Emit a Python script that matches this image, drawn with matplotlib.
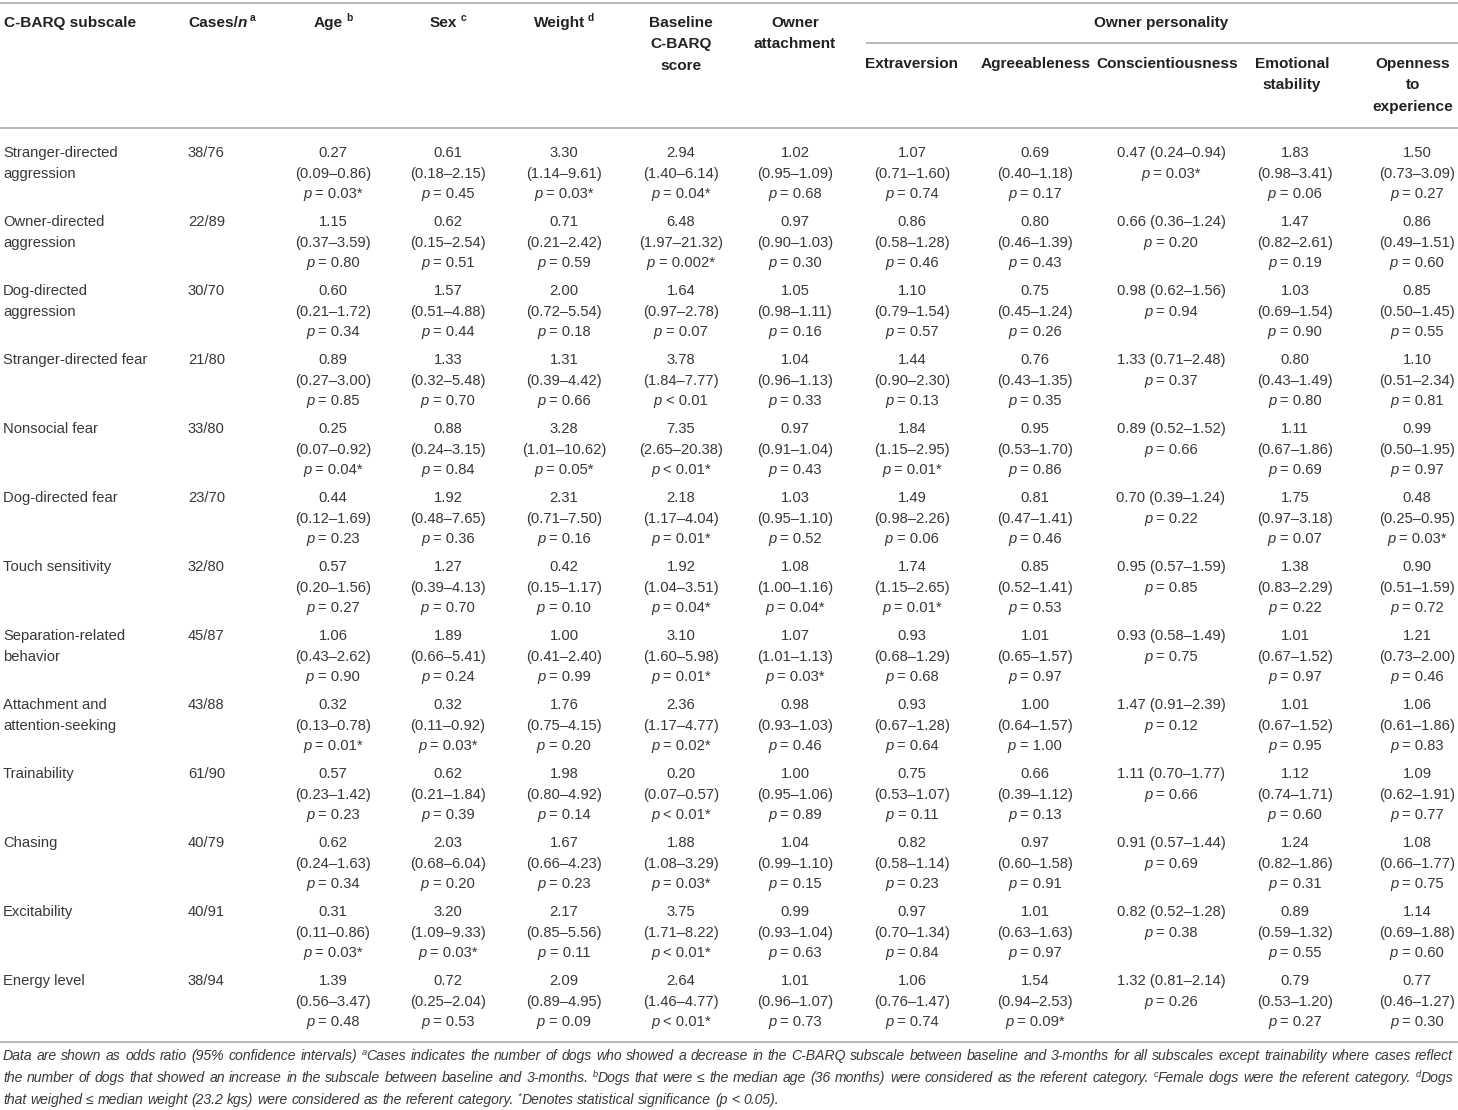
import matplotlib
matplotlib.use("Agg")
import matplotlib.pyplot as plt
from matplotlib.font_manager import FontProperties

# ---------------- data ----------------
subscales = ["Stranger-directed\naggression", "Owner-directed\naggression", "Dog-directed\naggression",
             "Stranger-directed fear", "Nonsocial fear", "Dog-directed fear", "Touch sensitivity",
             "Separation-related\nbehavior", "Attachment and\nattention-seeking", "Trainability",
             "Chasing", "Excitability", "Energy level"]
cases = ["38/76", "22/89", "30/70", "21/80", "33/80", "23/70", "32/80", "45/87", "43/88",
         "61/90", "40/79", "40/91", "38/94"]

# (odds ratio, CI low, CI high, p)
age = [(0.27, 0.09, 0.86, "0.03*"), (1.15, 0.37, 3.59, "0.80"), (0.60, 0.21, 1.72, "0.34"),
       (0.89, 0.27, 3.00, "0.85"), (0.25, 0.07, 0.92, "0.04*"), (0.44, 0.12, 1.69, "0.23"),
       (0.57, 0.20, 1.56, "0.27"), (1.06, 0.43, 2.62, "0.90"), (0.32, 0.13, 0.78, "0.01*"),
       (0.57, 0.23, 1.42, "0.23"), (0.62, 0.24, 1.63, "0.34"), (0.31, 0.11, 0.86, "0.03*"),
       (1.39, 0.56, 3.47, "0.48")]
sex = [(0.61, 0.18, 2.15, "0.45"), (0.62, 0.15, 2.54, "0.51"), (1.57, 0.51, 4.88, "0.44"),
       (1.33, 0.32, 5.48, "0.70"), (0.88, 0.24, 3.15, "0.84"), (1.92, 0.48, 7.65, "0.36"),
       (1.27, 0.39, 4.13, "0.70"), (1.89, 0.66, 5.41, "0.24"), (0.32, 0.11, 0.92, "0.03*"),
       (0.62, 0.21, 1.84, "0.39"), (2.03, 0.68, 6.04, "0.20"), (3.20, 1.09, 9.33, "0.03*"),
       (0.72, 0.25, 2.04, "0.53")]
weight = [(3.30, 1.14, 9.61, "0.03*"), (0.71, 0.21, 2.42, "0.59"), (2.00, 0.72, 5.54, "0.18"),
          (1.31, 0.39, 4.42, "0.66"), (3.28, 1.01, 10.62, "0.05*"), (2.31, 0.71, 7.50, "0.16"),
          (0.42, 0.15, 1.17, "0.10"), (1.00, 0.41, 2.40, "0.99"), (1.76, 0.75, 4.15, "0.20"),
          (1.98, 0.80, 4.92, "0.14"), (1.67, 0.66, 4.23, "0.23"), (2.17, 0.85, 5.56, "0.11"),
          (2.09, 0.89, 4.95, "0.09")]
baseline = [(2.94, 1.40, 6.14, "0.04*"), (6.48, 1.97, 21.32, "0.002*"), (1.64, 0.97, 2.78, "0.07"),
            (3.78, 1.84, 7.77, "<0.01"), (7.35, 2.65, 20.38, "<0.01*"), (2.18, 1.17, 4.04, "0.01*"),
            (1.92, 1.04, 3.51, "0.04*"), (3.10, 1.60, 5.98, "0.01*"), (2.36, 1.17, 4.77, "0.02*"),
            (0.20, 0.07, 0.57, "<0.01*"), (1.88, 1.08, 3.29, "0.03*"), (3.75, 1.71, 8.22, "<0.01*"),
            (2.64, 1.46, 4.77, "<0.01*")]
attachment = [(1.02, 0.95, 1.09, "0.68"), (0.97, 0.90, 1.03, "0.30"), (1.05, 0.98, 1.11, "0.16"),
              (1.04, 0.96, 1.13, "0.33"), (0.97, 0.91, 1.04, "0.43"), (1.03, 0.95, 1.10, "0.52"),
              (1.08, 1.00, 1.16, "0.04*"), (1.07, 1.01, 1.13, "0.03*"), (0.98, 0.93, 1.03, "0.46"),
              (1.00, 0.95, 1.06, "0.89"), (1.04, 0.99, 1.10, "0.15"), (0.99, 0.93, 1.04, "0.63"),
              (1.01, 0.96, 1.07, "0.73")]
extraversion = [(1.07, 0.71, 1.60, "0.74"), (0.86, 0.58, 1.28, "0.46"), (1.10, 0.79, 1.54, "0.57"),
                (1.44, 0.90, 2.30, "0.13"), (1.84, 1.15, 2.95, "0.01*"), (1.49, 0.98, 2.26, "0.06"),
                (1.74, 1.15, 2.65, "0.01*"), (0.93, 0.68, 1.29, "0.68"), (0.93, 0.67, 1.28, "0.64"),
                (0.75, 0.53, 1.07, "0.11"), (0.82, 0.58, 1.14, "0.23"), (0.97, 0.70, 1.34, "0.84"),
                (1.06, 0.76, 1.47, "0.74")]
agreeableness = [(0.69, 0.40, 1.18, "0.17"), (0.80, 0.46, 1.39, "0.43"), (0.75, 0.45, 1.24, "0.26"),
                 (0.76, 0.43, 1.35, "0.35"), (0.95, 0.53, 1.70, "0.86"), (0.81, 0.47, 1.41, "0.46"),
                 (0.85, 0.52, 1.41, "0.53"), (1.01, 0.65, 1.57, "0.97"), (1.00, 0.64, 1.57, "1.00"),
                 (0.66, 0.39, 1.12, "0.13"), (0.97, 0.60, 1.58, "0.91"), (1.01, 0.63, 1.63, "0.97"),
                 (1.54, 0.94, 2.53, "0.09*")]
conscientiousness = [(0.47, 0.24, 0.94, "0.03*"), (0.66, 0.36, 1.24, "0.20"), (0.98, 0.62, 1.56, "0.94"),
                     (1.33, 0.71, 2.48, "0.37"), (0.89, 0.52, 1.52, "0.66"), (0.70, 0.39, 1.24, "0.22"),
                     (0.95, 0.57, 1.59, "0.85"), (0.93, 0.58, 1.49, "0.75"), (1.47, 0.91, 2.39, "0.12"),
                     (1.11, 0.70, 1.77, "0.66"), (0.91, 0.57, 1.44, "0.69"), (0.82, 0.52, 1.28, "0.38"),
                     (1.32, 0.81, 2.14, "0.26")]
emotional = [(1.83, 0.98, 3.41, "0.06"), (1.47, 0.82, 2.61, "0.19"), (1.03, 0.69, 1.54, "0.90"),
             (0.80, 0.43, 1.49, "0.80"), (1.11, 0.67, 1.86, "0.69"), (1.75, 0.97, 3.18, "0.07"),
             (1.38, 0.83, 2.29, "0.22"), (1.01, 0.67, 1.52, "0.97"), (1.01, 0.67, 1.52, "0.95"),
             (1.12, 0.74, 1.71, "0.60"), (1.24, 0.82, 1.86, "0.31"), (0.89, 0.59, 1.32, "0.55"),
             (0.79, 0.53, 1.20, "0.27")]
openness = [(1.50, 0.73, 3.09, "0.27"), (0.86, 0.49, 1.51, "0.60"), (0.85, 0.50, 1.45, "0.55"),
            (1.10, 0.51, 2.34, "0.81"), (0.99, 0.50, 1.95, "0.97"), (0.48, 0.25, 0.95, "0.03*"),
            (0.90, 0.51, 1.59, "0.72"), (1.21, 0.73, 2.00, "0.46"), (1.06, 0.61, 1.86, "0.83"),
            (1.09, 0.62, 1.91, "0.77"), (1.08, 0.66, 1.77, "0.75"), (1.14, 0.69, 1.88, "0.60"),
            (0.77, 0.46, 1.27, "0.30")]

col_headers = [["Age"], ["Sex"], ["Weight"], ["Baseline", "C-BARQ", "score"], ["Owner", "attachment"],
               ["Extraversion"], ["Agreeableness"], ["Conscientiousness"], ["Emotional", "stability"],
               ["Openness", "to", "experience"]]
col_sups = ["b", "c", "d", "", "", "", "", "", "", ""]
col_data = [age, sex, weight, baseline, attachment, extraversion, agreeableness,
            conscientiousness, emotional, openness]
group_title = "Owner personality"

footnotes = [
    "Data are shown as odds ratio (95% confidence intervals) ^aCases indicates the number of dogs who showed a decrease in the C-BARQ subscale between baseline and 3-months for all subscales except trainability where cases reflect",
    "the number of dogs that showed an increase in the subscale between baseline and 3-months. ^bDogs that were \u2264 the median age (36 months) were considered as the referent category. ^cFemale dogs were the referent category. ^dDogs",
    "that weighed \u2264 median weight (23.2 kgs) were considered as the referent category. ^*Denotes statistical significance (p < 0.05).",
]

# ---------------- layout ----------------
W, H = 1458, 1110
col_x = [333, 448, 564, 681, 795, 912, 1035, 1171, 1295, 1417]
head_x = [333, 448, 564, 681, 795, 912, 1036, 1167, 1292, 1413]
compact_col = 7
FAM = ["Liberation Sans", "DejaVu Sans"]
HEAD_C = "#222222"
BODY_C = "#383838"
RULE_C = "#b5b5b5"

fig = plt.figure(figsize=(W / 100, H / 100), dpi=100)
fig.patch.set_facecolor("white")
ax = fig.add_axes([0, 0, 1, 1])
ax.set_xlim(0, W)
ax.set_ylim(H, 0)
ax.axis("off")
renderer = fig.canvas.get_renderer()

fp_head = FontProperties(family=FAM, weight="bold", size=11.1)
fp_head_i = FontProperties(family=FAM, weight="bold", style="italic", size=11.1)
fp_head_sup = FontProperties(family=FAM, weight="bold", size=7.4)
fp_body = FontProperties(family=FAM, size=10.6)
fp_body_i = FontProperties(family=FAM, style="italic", size=10.6)


def tw(s, fp):
    t = ax.text(0, 0, s, fontproperties=fp)
    w = t.get_window_extent(renderer).width
    t.remove()
    return w


_space_cache = {}


def spw(fp):
    key = (fp.get_size(), fp.get_style(), fp.get_weight())
    if key not in _space_cache:
        _space_cache[key] = tw("x x", fp) - tw("xx", fp)
    return _space_cache[key]


def draw_runs(x, y, runs, ha="center", color=BODY_C):
    # runs: (text, fontprops, dy, space_before)
    widths = [tw(r[0], r[1]) for r in runs]
    gaps = [spw(r[1]) if r[3] else 0 for r in runs]
    total = sum(widths) + sum(gaps)
    cx = x - total / 2 if ha == "center" else x
    for (s, fp, dy, _), w, g in zip(runs, widths, gaps):
        cx += g
        ax.text(cx, y + dy, s, fontproperties=fp, color=color, ha="left", va="baseline")
        cx += w


# rules
ax.plot([0, W], [3, 3], color=RULE_C, lw=1.4, solid_capstyle="butt")
ax.plot([0, W], [128, 128], color=RULE_C, lw=1.4, solid_capstyle="butt")
ax.plot([866, W], [43, 43], color=RULE_C, lw=1.4, solid_capstyle="butt")
ax.plot([0, W], [1042, 1042], color=RULE_C, lw=1.4, solid_capstyle="butt")

# header
hb = [27, 48, 69]
ax.text(4, hb[0], "C-BARQ subscale", fontproperties=fp_head, color=HEAD_C, va="baseline")
draw_runs(188, hb[0], [("Cases/", fp_head, 0, False), ("n", fp_head_i, 0, False),
                       ("a", fp_head_sup, -6, True)], ha="left", color=HEAD_C)
ax.text(1161, hb[0], group_title, fontproperties=fp_head, color=HEAD_C, ha="center", va="baseline")
for ci, (lines, sup) in enumerate(zip(col_headers, col_sups)):
    base = 68 if ci >= 5 else 27
    step = 21.3
    for li, s in enumerate(lines):
        runs = [(s, fp_head, 0, False)]
        if sup and li == 0:
            runs.append((sup, fp_head_sup, -6, True))
        draw_runs(head_x[ci], base + li * step, runs, color=HEAD_C)

# body
row0, row_step, line_step = 157, 69, 20.7
for ri in range(len(subscales)):
    y0 = row0 + ri * row_step
    for li, s in enumerate(subscales[ri].split("\n")):
        ax.text(3, y0 + li * line_step, s, fontproperties=fp_body, color=BODY_C, va="baseline")
    ax.text(188, y0, cases[ri], fontproperties=fp_body, color=BODY_C, va="baseline")
    for ci, data in enumerate(col_data):
        orv, lo, hi, p = data[ri]
        ptxt = ("< " + p[1:]) if p.startswith("<") else ("= " + p)
        prun = [("p", fp_body_i, 0, False), (ptxt, fp_body, 0, True)]
        ci_txt = f"({lo:.2f}\u2013{hi:.2f})"
        x = col_x[ci]
        if ci == compact_col:
            draw_runs(x, y0, [(f"{orv:.2f} {ci_txt}", fp_body, 0, False)])
            draw_runs(x, y0 + line_step, prun)
        else:
            draw_runs(x, y0, [(f"{orv:.2f}", fp_body, 0, False)])
            draw_runs(x, y0 + line_step, [(ci_txt, fp_body, 0, False)])
            draw_runs(x, y0 + 2 * line_step, prun)

# footnotes (italic, justified)
def fn_tokens(line):
    toks = []
    for word in line.split(" "):
        if word.startswith("^"):
            toks.append([(word[1], "sup"), (word[2:], "n")])
        else:
            toks.append([(word, "n")])
    return toks


def fn_width(tokens, fpn, fps):
    total = 0
    for tok in tokens:
        for s, k in tok:
            total += tw(s, fps if k == "sup" else fpn)
    return total, spw(fpn) * (len(tokens) - 1)


probe = FontProperties(family=FAM, style="italic", size=10.0)
w_words, w_sp = fn_width(fn_tokens(footnotes[0]), probe, FontProperties(family=FAM, style="italic", size=6.6))
fn_size = max(9.0, min(11.5, 10.0 * 1440 / (w_words + w_sp)))
fp_fn = FontProperties(family=FAM, style="italic", size=fn_size)
fp_fn_sup = FontProperties(family=FAM, style="italic", size=fn_size * 0.66)

fn_base = [1060, 1082, 1104]
x_left, x_right = 3, 1453
for li, line in enumerate(footnotes):
    toks = fn_tokens(line)
    words_w, sp_w = fn_width(toks, fp_fn, fp_fn_sup)
    gap = spw(fp_fn)
    if li < len(footnotes) - 1:
        gap = max(gap, (x_right - x_left - words_w) / (len(toks) - 1))
    cx = x_left
    for tok in toks:
        for s, k in tok:
            fp = fp_fn_sup if k == "sup" else fp_fn
            dy = -5 if k == "sup" else 0
            ax.text(cx, fn_base[li] + dy, s, fontproperties=fp, color=BODY_C, ha="left", va="baseline")
            cx += tw(s, fp)
        cx += gap

fig.savefig("out.png", dpi=100, facecolor="white")
